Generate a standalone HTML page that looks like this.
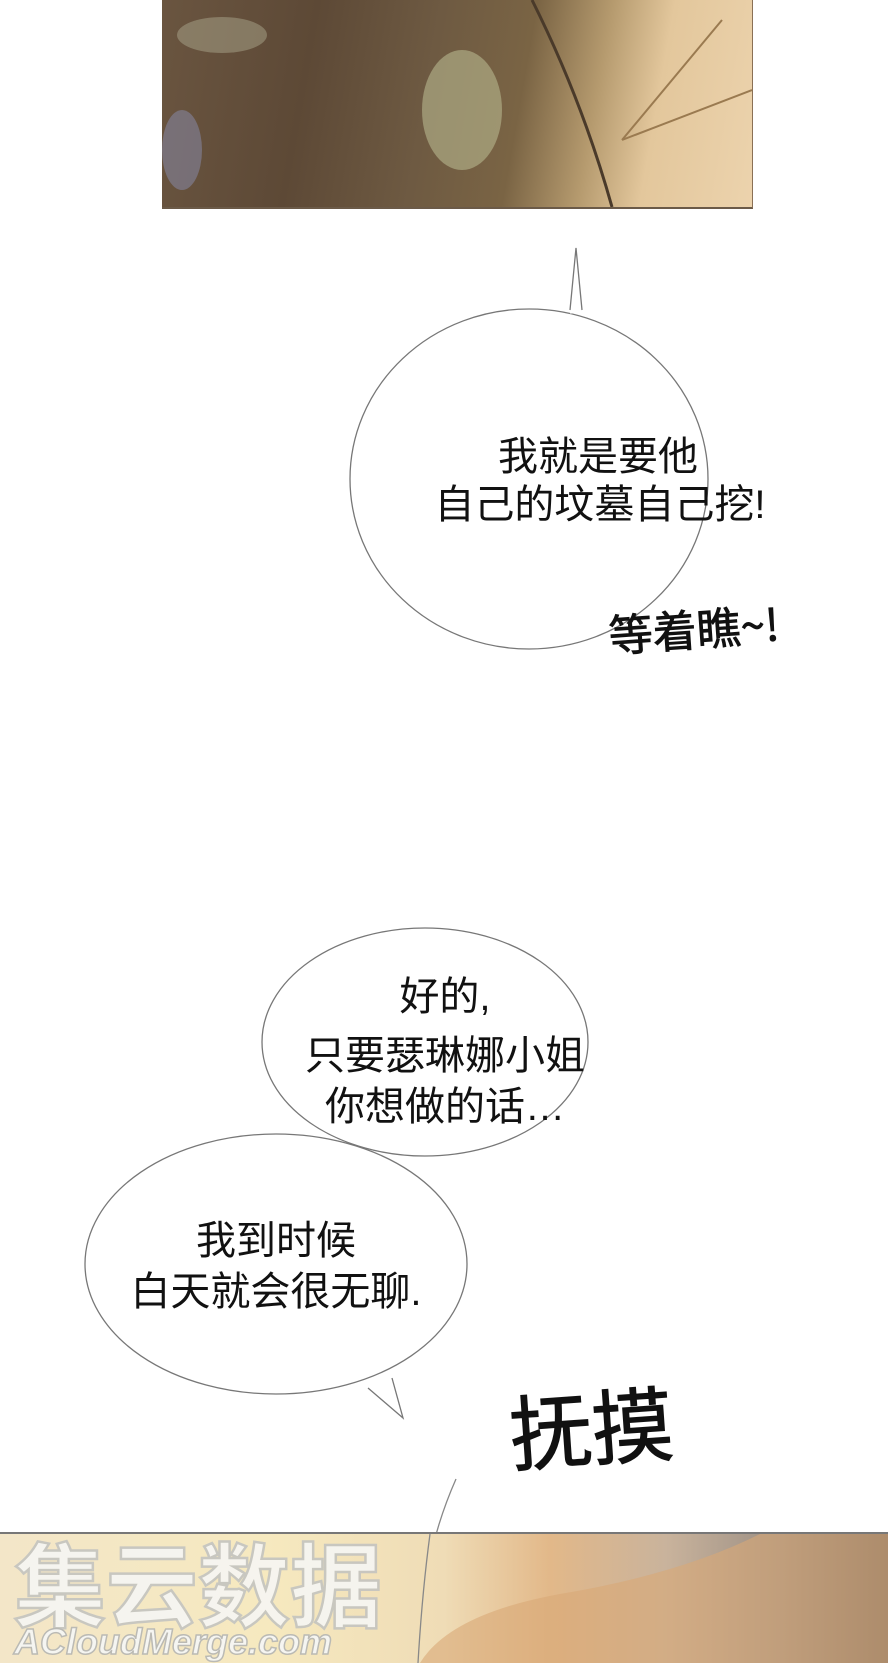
<!DOCTYPE html>
<html><head><meta charset="utf-8">
<style>
html,body{margin:0;padding:0;background:#fff;}
body{width:888px;height:1661px;position:relative;overflow:hidden;font-family:"Liberation Sans","Noto Sans CJK SC",sans-serif;}
.top{position:absolute;left:162px;top:0;width:590px;height:207px;
background:linear-gradient(100deg,#6a5540 0%,#5d4936 25%,#6e5a42 45%,#7a6444 60%,#b59a6e 72%,#e3c79c 82%,#ecd3ad 100%);
border-right:1px solid #8a7055;border-bottom:2px solid #6b5a48;}
.bot{position:absolute;left:0;top:1532px;width:888px;height:129px;
background:linear-gradient(90deg,#f3e6c8 0%,#f6e9bf 30%,#efdcb6 50%,#e2b889 62%,#c9b39c 75%,#9c8f84 88%,#6c625c 100%);
border-top:2px solid #777;}
</style></head><body>
<div class="top">
  <svg width="590" height="207" style="position:absolute;left:0;top:0">
    <ellipse cx="300" cy="110" rx="40" ry="60" fill="#b8b790" opacity="0.6"/>
    <ellipse cx="20" cy="150" rx="20" ry="40" fill="#8a8db0" opacity="0.5"/>
    <ellipse cx="60" cy="35" rx="45" ry="18" fill="#a9a58c" opacity="0.5"/>
    <path d="M370 0 Q420 100 450 207" stroke="#4a3a2a" stroke-width="3" fill="none"/>
    <path d="M460 140 L560 20 M460 140 L590 90" stroke="#9a7a50" stroke-width="2" fill="none"/>
  </svg>
</div>
<svg width="888" height="1661" style="position:absolute;left:0;top:0">
  <g fill="#fff" stroke="#777" stroke-width="1.3">
    <path d="M570 310 L576 248 L582 310"/>
    <ellipse cx="529" cy="479" rx="179" ry="170"/>
    <path d="M570 312 L582 312" stroke="#fff" stroke-width="3"/>
  </g>
  <g fill="#fff" stroke="#777" stroke-width="1.3">
    <ellipse cx="425" cy="1042" rx="163" ry="114"/>
    <path d="M368 1388 L403 1418 L392 1378"/>
    <ellipse cx="276" cy="1264" rx="191" ry="130"/>
  </g>
  <path d="M456 1479 Q420 1560 418 1661" stroke="#888" stroke-width="1.3" fill="none"/>
  <g font-family="'Liberation Sans','Noto Sans CJK SC',sans-serif" fill="#111" text-anchor="middle">
    <text x="598" y="470" font-size="40">我就是要他</text>
    <text x="600" y="518" font-size="40">自己的坟墓自己挖!</text>
    <text x="445" y="1010" font-size="40">好的,</text>
    <text x="445" y="1069" font-size="40">只要瑟琳娜小姐</text>
    <text x="445" y="1120" font-size="40">你想做的话…</text>
    <text x="276" y="1254" font-size="40">我到时候</text>
    <text x="276" y="1305" font-size="40">白天就会很无聊.</text>
  </g>
  <text x="610" y="652" font-size="44" font-family="'WenQuanYi Zen Hei','Noto Sans CJK SC',sans-serif" fill="#111" stroke="#111" stroke-width="0.8" transform="rotate(-4 610 652)">等着瞧~!</text>
  <text x="512" y="1465" font-size="82" font-family="'WenQuanYi Zen Hei','Noto Sans CJK SC',sans-serif" fill="#111" stroke="#111" stroke-width="1" transform="rotate(-4 512 1465)">抚摸</text>
</svg>
<div class="bot">
  <svg width="888" height="129" style="position:absolute;left:0;top:0">
    <path d="M420 129 Q450 80 560 60 Q680 40 760 0 L888 0 L888 129 Z" fill="#d9a877" opacity="0.6"/>
    <path d="M418 129 Q422 60 430 0" stroke="#888" stroke-width="1.3" fill="none"/>
    <text x="14" y="86" font-size="92" font-weight="bold" font-family="'WenQuanYi Zen Hei','Noto Sans CJK SC',sans-serif" fill="#f6f6f4" stroke="#c4c4c0" stroke-width="2.5" opacity="0.9">集云数据</text>
    <text x="14" y="120" font-size="36" font-weight="bold" font-style="italic" font-family="'Liberation Sans',sans-serif" fill="#f6f6f4" stroke="#b8b8b4" stroke-width="1.5" opacity="0.95">ACloudMerge.com</text>
  </svg>
</div>
</body></html>
